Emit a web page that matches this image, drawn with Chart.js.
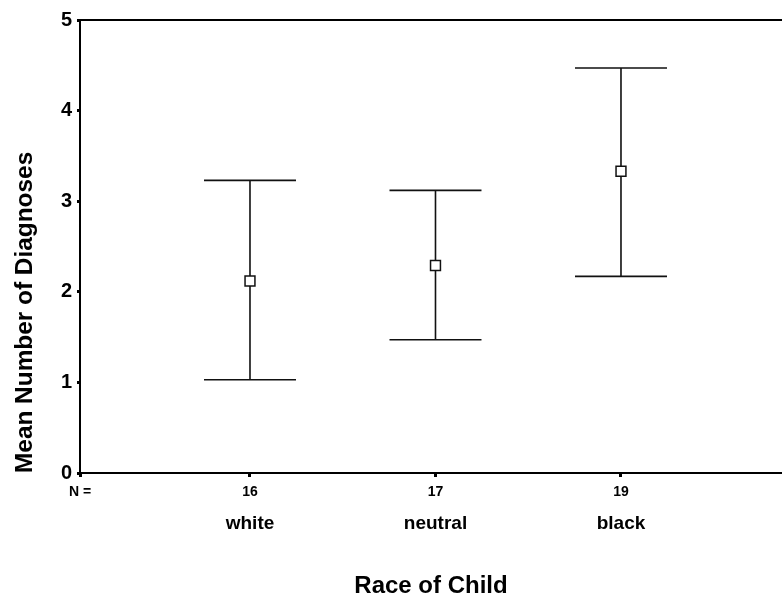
<!DOCTYPE html>
<html>
<head>
<meta charset="utf-8">
<script src="https://cdn.jsdelivr.net/npm/chart.js@4/dist/chart.umd.min.js"></script>
<style>
  html, body { margin: 0; padding: 0; background: #ffffff; overflow: hidden; }
  #wrap { width: 782px; height: 598px; position: relative; }
  #c { display: block; }
</style>
</head>
<body>
<div id="wrap"><canvas id="c"></canvas></div>
<script>
// ---- data ----
const categories = ["white", "neutral", "black"];
const nValues = ["16", "17", "19"];
const means = [2.12, 2.29, 3.33];
const lowerCI = [1.03, 1.47, 2.17];
const upperCI = [3.23, 3.12, 4.47];
const yTicks = [0, 1, 2, 3, 4, 5];

const positions = categories.map((c, i) => i + 1);
const FONT = "'Liberation Sans', Arial, Helvetica, sans-serif";

const errorBarPlugin = {
  id: 'errorBars',
  afterDatasetsDraw(chart) {
    const ctx = chart.ctx;
    const xs = chart.scales.x, ys = chart.scales.y;
    const a = chart.chartArea;
    ctx.save();
    // frame top line
    ctx.strokeStyle = '#000';
    ctx.lineWidth = 2;
    ctx.beginPath();
    ctx.moveTo(a.left - 1, a.top);
    ctx.lineTo(a.right, a.top);
    ctx.stroke();
    // error bars
    ctx.strokeStyle = '#111';
    ctx.lineWidth = 1.6;
    const capHalf = 46;
    positions.forEach((p, i) => {
      const px = xs.getPixelForValue(p);
      const yl = ys.getPixelForValue(lowerCI[i]);
      const yu = ys.getPixelForValue(upperCI[i]);
      const ym = ys.getPixelForValue(means[i]);
      ctx.beginPath();
      ctx.moveTo(px, yu); ctx.lineTo(px, ym - 5);
      ctx.moveTo(px, ym + 5); ctx.lineTo(px, yl);
      ctx.moveTo(px - capHalf, yu); ctx.lineTo(px + capHalf, yu);
      ctx.moveTo(px - capHalf, yl); ctx.lineTo(px + capHalf, yl);
      ctx.stroke();
    });
    ctx.restore();
  }
};

const xMin = 0.0836, xMax = 3.868;

new Chart(document.getElementById('c'), {
  type: 'scatter',
  data: {
    datasets: [{
      data: positions.map((p, i) => ({ x: p, y: means[i] })),
      pointStyle: 'rect',
      pointRadius: 7,
      pointHoverRadius: 7,
      pointBackgroundColor: '#fff',
      pointBorderColor: '#111',
      pointBorderWidth: 1.5,
      showLine: false
    }]
  },
  options: {
    responsive: true,
    maintainAspectRatio: false,
    animation: false,
    events: [],
    layout: { autoPadding: false, padding: { top: 20, right: 0, left: 0, bottom: 0 } },
    plugins: { legend: { display: false }, tooltip: { enabled: false } },
    scales: {
      x: {
        type: 'linear',
        position: 'bottom',
        min: xMin, max: xMax,
        afterBuildTicks: (s) => { s.ticks = [{ value: xMin }].concat(positions.map(v => ({ value: v }))); },
        afterFit: (s) => { s.height = 30; },
        grid: { drawOnChartArea: false, drawTicks: true, tickLength: 4, tickWidth: 3, tickColor: '#000' },
        border: { display: true, color: '#000', width: 2 },
        ticks: {
          color: '#000', padding: 7, maxRotation: 0, autoSkip: false,
          font: { family: FONT, size: 14, weight: 'bold' },
          callback: (v, i) => i === 0 ? 'N =' : nValues[i - 1]
        }
      },
      x2: {
        type: 'linear',
        position: 'bottom',
        min: xMin, max: xMax,
        afterBuildTicks: (s) => { s.ticks = positions.map(v => ({ value: v })); },
        afterFit: (s) => { s.height = 95; },
        grid: { display: false, drawTicks: false },
        border: { display: false },
        ticks: {
          color: '#000', padding: 9, maxRotation: 0, autoSkip: false,
          font: { family: FONT, size: 19, weight: 'bold' },
          callback: (v, i) => categories[i]
        },
        title: {
          display: true, text: 'Race of Child', color: '#000',
          font: { family: FONT, size: 24, weight: 'bold', lineHeight: 1 },
          padding: { top: 0, bottom: 0 }
        }
      },
      y: {
        min: 0, max: 5,
        afterBuildTicks: (s) => { s.ticks = yTicks.map(v => ({ value: v })); },
        afterFit: (s) => { s.width = 80; },
        grid: { drawOnChartArea: false, drawTicks: true, tickLength: 3, tickWidth: 3, tickColor: '#000' },
        border: { display: true, color: '#000', width: 2 },
        ticks: {
          color: '#000', padding: 5,
          font: { family: FONT, size: 20, weight: 'bold' }
        },
        title: {
          display: true, text: 'Mean Number of Diagnoses', color: '#000', align: 'start',
          font: { family: FONT, size: 24.4, weight: 'bold', lineHeight: 1 },
          padding: { top: 13, bottom: 0 }
        }
      }
    }
  },
  plugins: [errorBarPlugin]
});
</script>
</body>
</html>
